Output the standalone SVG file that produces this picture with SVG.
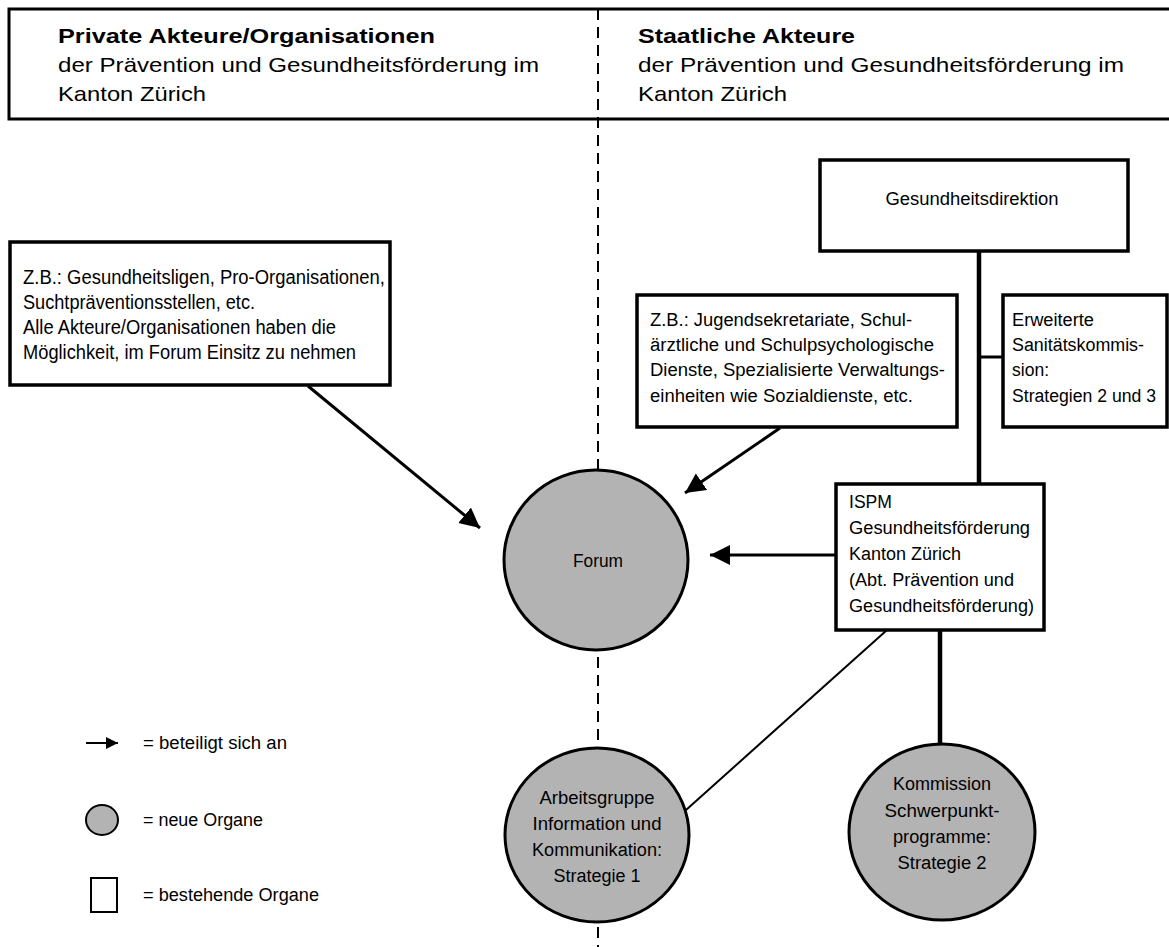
<svg xmlns="http://www.w3.org/2000/svg" width="1169" height="947" viewBox="0 0 1169 947">
<style>
.box{fill:#fff;stroke:#000;stroke-width:3.5}
.org{fill:#b3b3b3;stroke:#000;stroke-width:3}
.t{font-family:"Liberation Sans",Arial,sans-serif;font-size:18px;fill:#000}
.tl{font-family:"Liberation Sans",Arial,sans-serif;font-size:19.5px;fill:#000}
.h{font-family:"Liberation Sans",Arial,sans-serif;font-size:21px;fill:#000}
.hb{font-family:"Liberation Sans",Arial,sans-serif;font-size:21px;font-weight:bold;fill:#000}
.c{text-anchor:middle}
.ln{stroke:#000;stroke-width:3;fill:none}
.thick{stroke:#000;stroke-width:4.5;fill:none}
.thin{stroke:#000;stroke-width:2;fill:none}
</style>
<defs>
<marker id="ah" markerUnits="userSpaceOnUse" markerWidth="22" markerHeight="22" refX="20" refY="10" orient="auto">
<path d="M0,0 L20,10 L0,20 Z" fill="#000"/>
</marker>
<marker id="ahs" markerUnits="userSpaceOnUse" markerWidth="14" markerHeight="12" refX="12" refY="6" orient="auto">
<path d="M0,0 L12,6 L0,12 Z" fill="#000"/>
</marker>
</defs>

<g id="header">
<path d="M1169,9 H9 V119 H1169" class="ln" stroke-width="4"/>
<text class="hb" x="58" y="43" textLength="377" lengthAdjust="spacingAndGlyphs">Private Akteure/Organisationen</text>
<text class="h" x="58" y="72" textLength="481" lengthAdjust="spacingAndGlyphs">der Prävention und Gesundheitsförderung im</text>
<text class="h" x="58" y="101" textLength="148" lengthAdjust="spacingAndGlyphs">Kanton Zürich</text>
<text class="hb" x="638" y="43" textLength="217" lengthAdjust="spacingAndGlyphs">Staatliche Akteure</text>
<text class="h" x="638" y="72" textLength="486" lengthAdjust="spacingAndGlyphs">der Prävention und Gesundheitsförderung im</text>
<text class="h" x="638" y="101" textLength="149" lengthAdjust="spacingAndGlyphs">Kanton Zürich</text>
</g>

<g id="divider">
<line x1="598" y1="9" x2="598" y2="947" stroke="#000" stroke-width="2" stroke-dasharray="11,7"/>
</g>

<g id="connectors">
<line class="thick" x1="979" y1="251" x2="979" y2="484"/>
<line class="ln" x1="979" y1="357" x2="1003" y2="357"/>
<line class="ln" x1="308" y1="386" x2="480" y2="528" marker-end="url(#ah)"/>
<line class="ln" x1="780" y1="428" x2="685" y2="493" marker-end="url(#ah)"/>
<line class="ln" x1="836" y1="555" x2="710" y2="555" marker-end="url(#ah)"/>
<line class="thin" x1="887" y1="630" x2="686" y2="810"/>
<line class="thick" x1="940" y1="630" x2="940" y2="745"/>
</g>

<g id="gesundheitsdirektion">
<rect class="box" x="820" y="160" width="308" height="91"/>
<text class="t c" x="972" y="205" textLength="173" lengthAdjust="spacingAndGlyphs">Gesundheitsdirektion</text>
</g>

<g id="private">
<rect class="box" x="10" y="242" width="380" height="143"/>
<text class="tl" x="23" y="284" textLength="362" lengthAdjust="spacingAndGlyphs">Z.B.: Gesundheitsligen, Pro-Organisationen,</text>
<text class="tl" x="23" y="309" textLength="232" lengthAdjust="spacingAndGlyphs">Suchtpräventionsstellen, etc.</text>
<text class="tl" x="23" y="334" textLength="313" lengthAdjust="spacingAndGlyphs">Alle Akteure/Organisationen haben die</text>
<text class="tl" x="23" y="359" textLength="333" lengthAdjust="spacingAndGlyphs">Möglichkeit, im Forum Einsitz zu nehmen</text>
</g>

<g id="staatliche-dienste">
<rect class="box" x="637" y="295" width="320" height="132"/>
<text class="t" x="650" y="326" textLength="262" lengthAdjust="spacingAndGlyphs">Z.B.: Jugendsekretariate, Schul-</text>
<text class="t" x="650" y="351" textLength="284" lengthAdjust="spacingAndGlyphs">ärztliche und Schulpsychologische</text>
<text class="t" x="650" y="376" textLength="295" lengthAdjust="spacingAndGlyphs">Dienste, Spezialisierte Verwaltungs-</text>
<text class="t" x="650" y="402" textLength="263" lengthAdjust="spacingAndGlyphs">einheiten wie Sozialdienste, etc.</text>
</g>

<g id="sanitaetskommission">
<rect class="box" x="1003" y="295" width="164" height="132"/>
<text class="t" x="1012" y="326" textLength="82" lengthAdjust="spacingAndGlyphs">Erweiterte</text>
<text class="t" x="1012" y="351" textLength="132" lengthAdjust="spacingAndGlyphs">Sanitätskommis-</text>
<text class="t" x="1012" y="376" textLength="37" lengthAdjust="spacingAndGlyphs">sion:</text>
<text class="t" x="1012" y="402" textLength="144" lengthAdjust="spacingAndGlyphs">Strategien 2 und 3</text>
</g>

<g id="ispm">
<rect class="box" x="836" y="484" width="208" height="146"/>
<text class="t" x="849" y="508" textLength="43" lengthAdjust="spacingAndGlyphs">ISPM</text>
<text class="t" x="849" y="534" textLength="181" lengthAdjust="spacingAndGlyphs">Gesundheitsförderung</text>
<text class="t" x="849" y="560" textLength="112" lengthAdjust="spacingAndGlyphs">Kanton Zürich</text>
<text class="t" x="849" y="586" textLength="165" lengthAdjust="spacingAndGlyphs">(Abt. Prävention und</text>
<text class="t" x="849" y="612" textLength="185" lengthAdjust="spacingAndGlyphs">Gesundheitsförderung)</text>
</g>

<g id="forum">
<ellipse class="org" cx="596" cy="560" rx="92" ry="90"/>
<text class="t c" x="598" y="567" textLength="50" lengthAdjust="spacingAndGlyphs">Forum</text>
</g>

<g id="arbeitsgruppe">
<ellipse class="org" cx="597" cy="835" rx="92" ry="87"/>
<text class="t c" x="597" y="804" textLength="115" lengthAdjust="spacingAndGlyphs">Arbeitsgruppe</text>
<text class="t c" x="597" y="830" textLength="129" lengthAdjust="spacingAndGlyphs">Information und</text>
<text class="t c" x="597" y="856" textLength="130" lengthAdjust="spacingAndGlyphs">Kommunikation:</text>
<text class="t c" x="597" y="882" textLength="87" lengthAdjust="spacingAndGlyphs">Strategie 1</text>
</g>

<g id="kommission">
<ellipse class="org" cx="942" cy="832" rx="93" ry="88"/>
<text class="t c" x="942" y="790" textLength="98" lengthAdjust="spacingAndGlyphs">Kommission</text>
<text class="t c" x="942" y="817" textLength="115" lengthAdjust="spacingAndGlyphs">Schwerpunkt-</text>
<text class="t c" x="942" y="843" textLength="98" lengthAdjust="spacingAndGlyphs">programme:</text>
<text class="t c" x="942" y="869" textLength="89" lengthAdjust="spacingAndGlyphs">Strategie 2</text>
</g>

<g id="legend">
<line class="thin" x1="86" y1="743" x2="118" y2="743" marker-end="url(#ahs)"/>
<text class="t" x="143" y="749" textLength="144" lengthAdjust="spacingAndGlyphs">= beteiligt sich an</text>
<ellipse cx="102" cy="820" rx="16" ry="15" fill="#b3b3b3" stroke="#000" stroke-width="2"/>
<text class="t" x="143" y="826" textLength="120" lengthAdjust="spacingAndGlyphs">= neue Organe</text>
<rect x="91" y="878" width="26" height="34" fill="#fff" stroke="#000" stroke-width="2"/>
<text class="t" x="143" y="901" textLength="176" lengthAdjust="spacingAndGlyphs">= bestehende Organe</text>
</g>
</svg>
